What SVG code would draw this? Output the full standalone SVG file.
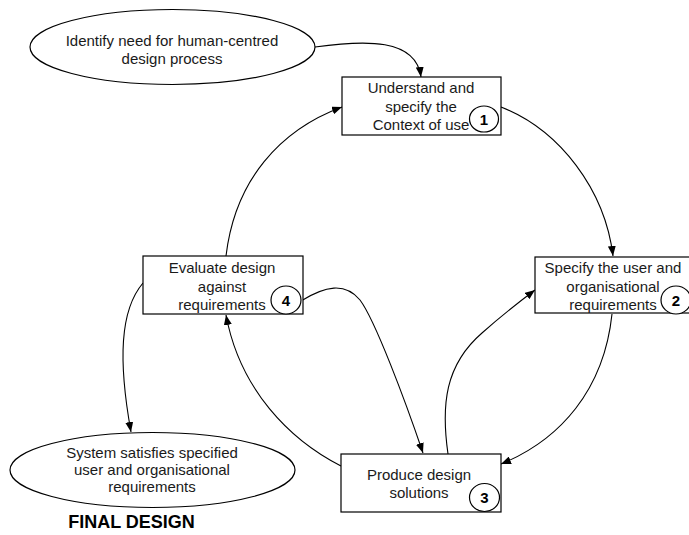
<svg xmlns="http://www.w3.org/2000/svg" width="689" height="535" viewBox="0 0 689 535">
  <style>
    .box { fill: #fff; stroke: #000; stroke-width: 1.2; }
    .oval { fill: #fff; stroke: #000; stroke-width: 1.2; }
    .num { fill: #fff; stroke: #000; stroke-width: 1.2; }
    .t { font-family: "Liberation Sans", Arial, sans-serif; font-size: 15px; fill: #1a1a1a; text-anchor: middle; }
    .n { font-family: "Liberation Sans", Arial, sans-serif; font-size: 15px; font-weight: bold; fill: #000; text-anchor: middle; }
    .title { font-family: "Liberation Sans", Arial, sans-serif; font-size: 18px; font-weight: bold; fill: #000; text-anchor: middle; }
    .link { fill: none; stroke: #000; stroke-width: 1.1; marker-end: url(#head); }
  </style>
  <defs>
    <marker id="head" viewBox="0 0 10 8" refX="10" refY="4" markerWidth="10" markerHeight="8" markerUnits="userSpaceOnUse" orient="auto">
      <path d="M0,0 L10,4 L0,8 Z" fill="#000"/>
    </marker>
  </defs>

  <rect width="689" height="535" fill="#fff"/>

  <g id="connectors">
    <path class="link" d="M315,47 C365,40 416,38 421,77"/>
    <path class="link" d="M501,107 C560,130 605,190 613,256"/>
    <path class="link" d="M612,314 C604,390 560,440 501,464"/>
    <path class="link" d="M448,454 C441,405 445,365 482,333 C500,317 515,305 535,290"/>
    <path class="link" d="M301,301 C325,286 345,282 360,300 C375,320 405,400 423,453"/>
    <path class="link" d="M341,466 C290,440 240,390 226,315"/>
    <path class="link" d="M226,256 C235,180 280,130 342,107"/>
    <path class="link" d="M143,283 C120,310 118,360 131,432"/>
  </g>

  <g id="start">
    <ellipse class="oval" cx="172.5" cy="47" rx="142.5" ry="37.5"/>
    <text class="t" x="172" y="46">Identify need for human-centred</text>
    <text class="t" x="172" y="63.5">design process</text>
  </g>

  <g id="step1">
    <rect class="box" x="342" y="77" width="159" height="58"/>
    <text class="t" x="421" y="93">Understand and</text>
    <text class="t" x="421" y="111.5">specify the</text>
    <text class="t" x="421" y="130">Context of use</text>
    <ellipse class="num" cx="484" cy="119" rx="14.5" ry="13"/>
    <text class="n" x="484" y="124.5">1</text>
  </g>

  <g id="step2">
    <rect class="box" x="535" y="257" width="159" height="56"/>
    <text class="t" x="613" y="273">Specify the user and</text>
    <text class="t" x="613" y="291.5">organisational</text>
    <text class="t" x="613" y="309.5">requirements</text>
    <ellipse class="num" cx="676" cy="300" rx="15" ry="14"/>
    <text class="n" x="676" y="305.5">2</text>
  </g>

  <g id="step3">
    <rect class="box" x="341" y="454" width="160" height="58"/>
    <text class="t" x="419" y="480">Produce design</text>
    <text class="t" x="419" y="498">solutions</text>
    <ellipse class="num" cx="484.5" cy="497.5" rx="15" ry="14"/>
    <text class="n" x="484.5" y="503">3</text>
  </g>

  <g id="step4">
    <rect class="box" x="143" y="256" width="160" height="58"/>
    <text class="t" x="222" y="273">Evaluate design</text>
    <text class="t" x="222" y="291.5">against</text>
    <text class="t" x="222" y="309.5">requirements</text>
    <ellipse class="num" cx="286" cy="300" rx="15" ry="14"/>
    <text class="n" x="286" y="305.5">4</text>
  </g>

  <g id="finish">
    <ellipse class="oval" cx="152.5" cy="470" rx="142.5" ry="37.5"/>
    <text class="t" x="152" y="457.5">System satisfies specified</text>
    <text class="t" x="152" y="475">user and organisational</text>
    <text class="t" x="152" y="492">requirements</text>
    <text class="title" x="131.5" y="528">FINAL DESIGN</text>
  </g>
</svg>
